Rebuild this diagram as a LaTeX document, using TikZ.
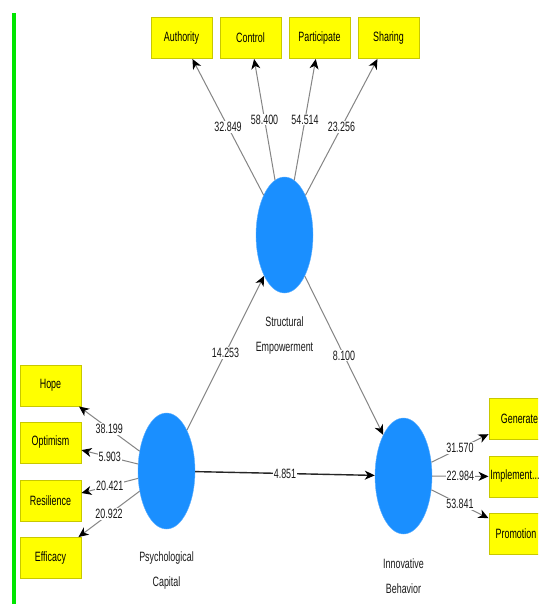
\documentclass[tikz,border=0pt]{standalone}
\usepackage{fontspec}
\setmainfont{Liberation Sans}[FakeStretch=0.66]
\usetikzlibrary{arrows.meta,shapes.geometric}
\definecolor{boxyellow}{HTML}{FFFF00}
\definecolor{boxborder}{HTML}{C8C800}
\definecolor{lvblue}{HTML}{1A8FFF}
\definecolor{linegray}{HTML}{858585}
\definecolor{txt}{HTML}{1A1A1A}
\definecolor{bargreen}{HTML}{00E600}
\begin{document}
\begin{tikzpicture}[x=1pt,y=-1pt,
  ind/.style={draw=boxborder, fill=boxyellow, line width=1pt, minimum width=61pt, minimum height=41pt, inner sep=0pt, font=\fontsize{13.5}{15}\selectfont, text=black},
  lv/.style={ellipse, fill=lvblue, draw=lvblue!70, minimum width=57pt, minimum height=116pt, inner sep=0pt},
  lvname/.style={align=center, font=\fontsize{13.5}{25}\selectfont, text=txt},
  load/.style={draw=linegray, line width=1pt, -{Stealth[length=10pt,width=9pt,inset=3pt,color=black]}},
  num/.style={fill=white, inner sep=1pt, font=\fontsize{13.5}{15}\selectfont, text=txt}
]
\useasboundingbox (0,0) rectangle (538,604);
\clip (0,0) rectangle (538,604);
\fill[white] (0,0) rectangle (538,604);
\fill[bargreen] (12,13) rectangle (16,604);

% latent variables
\node[lv] (SE) at (284.5,235) {};
\node[lv] (PC) at (166.5,471) {};
\node[lv] (IB) at (403.5,476) {};

\node[lvname] (SElab) at ([yshift=-101pt]SE.center) {Structural\\Empowerment};
\node[lvname] (PClab) at ([yshift=-100pt]PC.center) {Psychological\\Capital};
\node[lvname] (IBlab) at ([yshift=-100pt]IB.center) {Innovative\\Behavior};

% indicators
\node[ind] (auth) at (181.5,38) {Authority};
\node[ind] (ctrl) at (250.5,38) {Control};
\node[ind] (part) at (319.5,38) {Participate};
\node[ind] (shar) at (388.5,38) {Sharing};

\node[ind] (hope) at (50.5,385.5) {Hope};
\node[ind] (opti) at (50.5,442.5) {Optimism};
\node[ind] (resi) at (50.5,501) {Resilience};
\node[ind] (effi) at (50.5,558) {Efficacy};

\node[ind] (gene) at (519.5,419) {Generate};
\node[ind] (impl) at (519.5,476.5) {Implement...\hspace*{9pt}};
\node[ind] (prom) at (519.5,533.5) {Promotion\hspace*{7pt}};

% outer loadings
\draw[load] (SE) -- node[num]{32.849} (auth);
\draw[load] (SE) -- node[num]{58.400} (ctrl);
\draw[load] (SE) -- node[num]{54.514} (part);
\draw[load] (SE) -- node[num]{23.256} (shar);

\draw[load] (PC) -- node[num]{38.199} (hope);
\draw[load] (PC) -- node[num]{5.903} (opti);
\draw[load] (PC) -- node[num]{20.421} (resi);
\draw[load] (PC) -- node[num]{20.922} (effi);

\draw[load] (IB) -- node[num]{31.570} (gene);
\draw[load] (IB) -- node[num]{22.984} (impl);
\draw[load] (IB) -- node[num]{53.841} (prom);

% structural paths
\draw[load] (PC) -- node[num]{14.253} (SE);
\draw[load] (SE) -- node[num]{8.100} (IB);
\draw[load, draw=black!85, line width=1.4pt] (PC) -- node[num]{4.851} (IB);
\end{tikzpicture}
\end{document}
